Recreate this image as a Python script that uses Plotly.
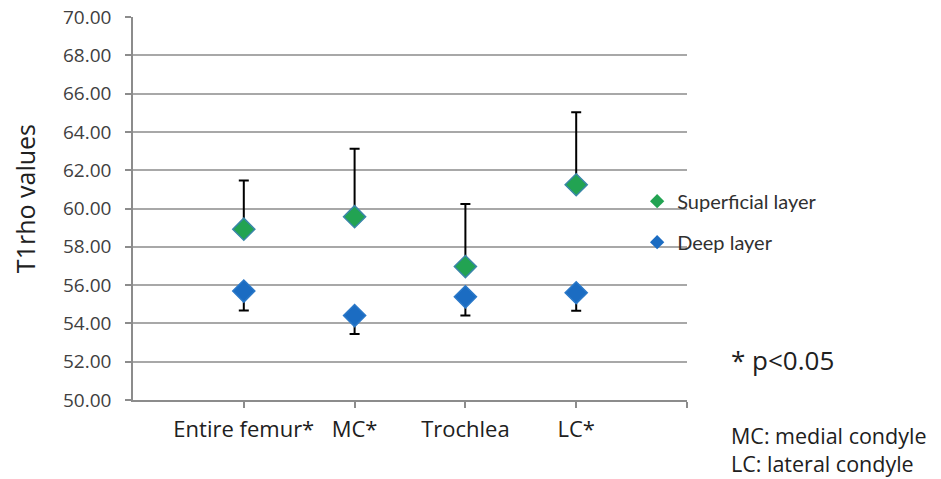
import plotly.graph_objects as go

categories = ["Entire femur*", "MC*", "Trochlea", "LC*"]
superficial = [58.92, 59.57, 56.97, 61.24]
superficial_sd = [2.54, 3.55, 3.26, 3.79]
deep = [55.69, 54.41, 55.39, 55.60]
deep_sd = [1.02, 0.97, 0.98, 0.94]
y_ticks = [50, 52, 54, 56, 58, 60, 62, 64, 66, 68, 70]

x_idx = list(range(len(categories)))

green = "#22a352"
green_edge = "#3a86a8"
blue = "#1b6cc2"
blue_edge = "#2a78c8"

fig = go.Figure()
fig.add_trace(go.Scatter(
    x=x_idx, y=superficial, mode="markers", showlegend=False,
    marker=dict(symbol="diamond", size=17, color=green, line=dict(color=green_edge, width=1.5)),
    error_y=dict(type="data", symmetric=False, array=superficial_sd, arrayminus=[0]*4,
                 color="black", thickness=2, width=5),
))
fig.add_trace(go.Scatter(
    x=x_idx, y=deep, mode="markers", showlegend=False,
    marker=dict(symbol="diamond", size=17, color=blue, line=dict(color=blue_edge, width=1.5)),
    error_y=dict(type="data", symmetric=False, array=[0]*4, arrayminus=deep_sd,
                 color="black", thickness=2, width=5),
))
# legend entries
fig.add_trace(go.Scatter(x=[None], y=[None], mode="markers", name="Superficial layer",
                         legendgroup="a",
                         marker=dict(symbol="diamond", size=11, color=green)))
fig.add_trace(go.Scatter(x=[None], y=[None], mode="markers", name="Deep layer",
                         legendgroup="b",
                         marker=dict(symbol="diamond", size=11, color=blue)))

fig.update_layout(
    width=941, height=479,
    margin=dict(l=133, r=254, t=17, b=79, autoexpand=False),
    paper_bgcolor="white", plot_bgcolor="white",
    font=dict(family="Open Sans", color="#303030"),
    legend=dict(x=0.91, y=0.57, xanchor="left", yanchor="top",
                font=dict(family="Lato", size=20, color="#303030"),
                bgcolor="rgba(0,0,0,0)", tracegroupgap=12, traceorder="grouped"),
    xaxis=dict(range=[-1, 4], tickvals=x_idx + [4], ticktext=categories + [""],
               showgrid=False, zeroline=False, showline=True, linecolor="#8c8c8c", linewidth=1.5,
               ticks="outside", ticklen=6, tickcolor="#8c8c8c", tickwidth=1.5,
               tickfont=dict(family="Open Sans", size=22, color="#202020"),
               ticklabelstandoff=3, automargin=False, ticklabeloverflow="allow"),
    yaxis=dict(range=[50, 70], tickvals=y_ticks, ticktext=[f"{v:.2f}" for v in y_ticks],
               showgrid=True, gridcolor="#a8a8a8", gridwidth=1.5, zeroline=False,
               showline=True, linecolor="#8c8c8c", linewidth=1.5,
               ticks="outside", ticklen=6, tickcolor="#8c8c8c", tickwidth=1.5,
               tickfont=dict(family="Open Sans", size=19, color="#404040"),
               ticklabelstandoff=10, automargin=False, ticklabeloverflow="allow"),
)

fig.add_annotation(text="T1rho values", xref="paper", yref="paper", x=-0.195, y=0.527,
                   xanchor="center", yanchor="middle",
                   textangle=-90, showarrow=False, font=dict(family="Open Sans", size=25, color="#202020"))
fig.add_annotation(text="* p<0.05", xref="paper", yref="paper", x=1.076, y=0.104,
                   xanchor="left", yanchor="middle", showarrow=False,
                   font=dict(family="Open Sans", size=26, color="#202020"))
fig.add_annotation(text="MC: medial condyle<br>LC: lateral condyle", xref="paper", yref="paper",
                   x=1.076, y=-0.128, xanchor="left", yanchor="middle", align="left", showarrow=False,
                   font=dict(family="Open Sans", size=21.5, color="#202020"))

fig.write_html("out.html", config={"displayModeBar": False},
               post_script="document.body.style.margin='0';")
